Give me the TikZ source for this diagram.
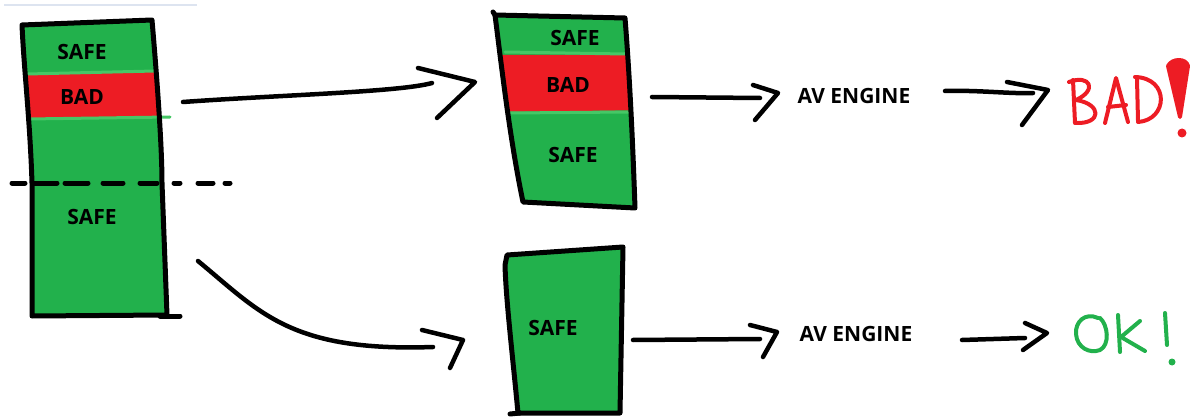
\documentclass[tikz,border=0pt]{standalone}
\usepackage{fontspec}
\setmainfont{Open Sans}
\definecolor{pgreen}{HTML}{22B14C}
\definecolor{lgreen}{HTML}{46C766}
\definecolor{pred}{HTML}{ED1C24}
\definecolor{faint}{HTML}{DDE4F0}
\begin{document}
\begin{tikzpicture}[x=1pt,y=-1pt,
  outline/.style={draw=black,line width=5pt,line join=round,line cap=round},
  sep/.style={draw=lgreen,line width=3pt,line cap=round},
  pen/.style={draw=black,line width=4.5pt,line cap=round,line join=round},
  lbl/.style={font=\bfseries\fontsize{21}{21}\selectfont,inner sep=0pt,text=black},
  hand/.style={line width=4pt,line cap=round,line join=round}]
\useasboundingbox (0,0) rectangle (1197,417);
\draw[faint,line width=1.2pt] (4,5) -- (197,5);

% ---------- left block ----------
\def\leftbox{(22,25) -- (152,20) .. controls (158,90) and (162,150) .. (162,183) -- (167,315) -- (32,316) -- (32,183) .. controls (30,120) and (24,70) .. cycle}
\fill[pgreen] \leftbox;
\begin{scope}
  \clip \leftbox;
  \fill[pred] (0,75) -- (200,71) -- (200,117) -- (0,120) -- cycle;
\end{scope}
\draw[sep] (27,74) -- (155,71);
\draw[sep] (28,119) -- (170,117);
\draw[outline] \leftbox;
\draw[outline] (160,316) -- (180,316);
\node[lbl] (lsafe1) at (82,52) {SAFE};
\node[lbl] (lbad) at (82,97) {BAD};
\node[lbl] (lsafe2) at (92,217) {SAFE};

% dashed cut line
\foreach \a/\b in {12/25,33/57,65/88,103/123,140/157,174/180,198/213,225/230}
  \draw[black,line width=5pt,line cap=round] (\a,183) -- (\b,183);

% ---------- middle top block ----------
\def\midtop{(495,15) -- (625,18) .. controls (630,80) and (633,150) .. (635,208) -- (523,202) .. controls (510,140) and (502,70) .. cycle}
\fill[pgreen] \midtop;
\begin{scope}
  \clip \midtop;
  \fill[pred] (480,55) -- (660,55) -- (660,110) -- (480,112) -- cycle;
\end{scope}
\draw[sep] (505,52) -- (625,54);
\draw[sep] (510,113) -- (630,112);
\draw[outline] \midtop;
\draw[outline] (495,15) -- (493,12);
\node[lbl] (msafe1) at (575,38) {SAFE};
\node[lbl] (mbad) at (568,85) {BAD};
\node[lbl] (msafe2) at (573,155) {SAFE};

% ---------- middle bottom block ----------
\def\midbot{(507,255) -- (623,247) -- (620,413) -- (518,413) .. controls (512,350) and (506,300) .. (505,265) -- cycle}
\fill[pgreen] \midbot;
\draw[outline] \midbot;
\draw[outline] (510,414) -- (520,413);
\node[lbl] (bsafe) at (553,328) {SAFE};

% ---------- AV engines ----------
\node[lbl] (av1) at (854,96) {AV ENGINE};
\node[lbl] (av2) at (856,334) {AV ENGINE};

% ---------- results ----------
\begin{scope}[pred,hand]
  % B
  \draw (1073,80) -- (1075,123);
  \draw (1069,82) .. controls (1090,74) and (1098,90) .. (1076,100);
  \draw (1076,100) .. controls (1102,104) and (1102,124) .. (1076,123);
  % A
  \draw (1105,123) -- (1116,78) -- (1128,122);
  \draw (1108,107) -- (1126,105);
  % D
  \draw (1137,79) -- (1138,121);
  \draw (1135,77) .. controls (1170,78) and (1168,120) .. (1138,122);
  % !
  \fill (1168,66) .. controls (1172,58) and (1186,58) .. (1188,66) -- (1180,117) -- cycle;
  \draw (1168,66) .. controls (1172,58) and (1186,58) .. (1188,66) -- (1180,117) -- cycle;
  \fill (1182,133) circle (4.5);
\end{scope}
\begin{scope}[pgreen,hand]
  % O
  \draw (1098,318) .. controls (1085,312) and (1075,322) .. (1076,334) .. controls (1077,348) and (1090,354) .. (1100,350) .. controls (1110,345) and (1108,325) .. (1100,318);
  % K
  \draw (1118,315) -- (1120,352);
  \draw (1140,321) -- (1121,337) -- (1145,351);
  % !
  \draw (1165,313) -- (1167,345);
  \fill (1172,362) circle (3.5);
\end{scope}

% ---------- connectors ----------
\coordinate (a1s) at (183,102);
\coordinate (a1e) at (432,83);
\draw[pen] (a1s) .. controls (280,95) and (400,92) .. (a1e);
\draw[pen] (418,68) -- (475,82) -- (437,118);

\coordinate (a2s) at (198,261);
\coordinate (a2e) at (433,347);
\draw[pen] (a2s) .. controls (260,312) and (290,352) .. (a2e);
\draw[pen] (422,330) -- (463,340) -- (450,368);

\draw[pen] (652,97) -- (760,98);
\draw[pen] (753,85) -- (778,93) -- (755,120);
\draw[pen] (945,91) .. controls (980,90) and (1010,94) .. (1033,93);
\draw[pen] (1007,82) -- (1048,90) -- (1022,125);

\draw[pen] (633,340) -- (760,339);
\draw[pen] (750,325) -- (777,332) -- (763,357);
\draw[pen] (962,340) -- (1025,338);
\draw[pen] (1025,323) -- (1047,333) -- (1023,350);
\end{tikzpicture}
\end{document}
